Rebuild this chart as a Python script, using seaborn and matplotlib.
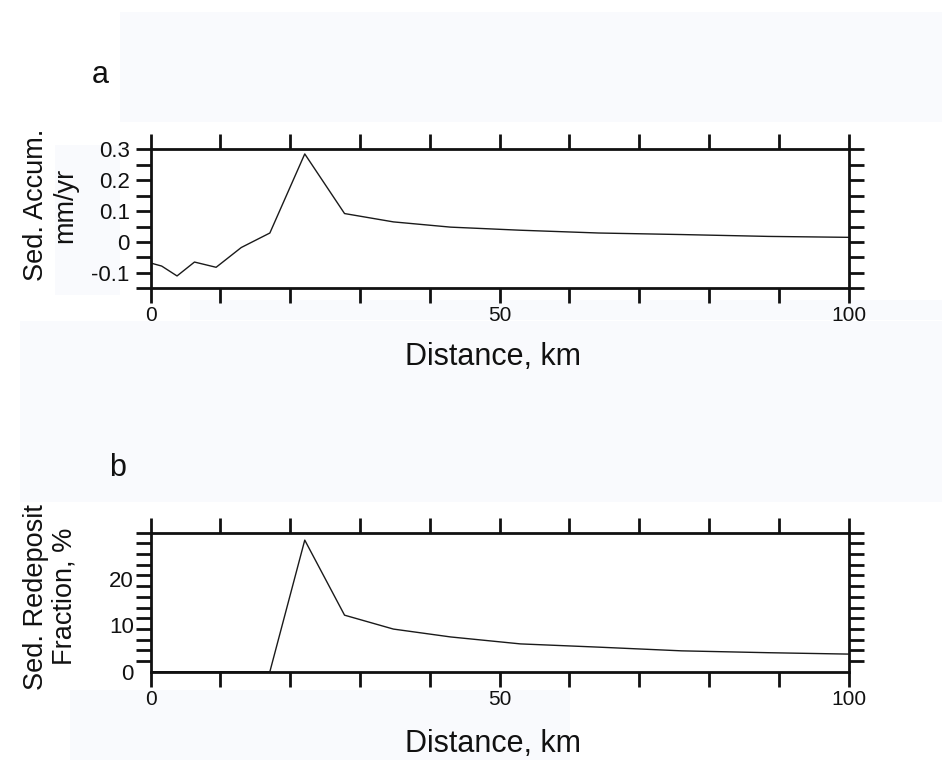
import numpy as np
import pandas as pd
import matplotlib
matplotlib.use("Agg")
import matplotlib.pyplot as plt
from matplotlib.patches import Rectangle
from matplotlib.ticker import FixedLocator, FuncFormatter
import seaborn as sns

# ---- data ----
distance_km = [0, 1.6, 3.8, 6.3, 9.4, 13.0, 17.1, 22.1, 27.8, 34.8, 43.0, 53.0, 64.2, 76.1, 88.5, 100.0]
sed_accum = [-0.068, -0.078, -0.110, -0.065, -0.082, -0.018, 0.029, 0.285, 0.092, 0.065,
             0.048, 0.038, 0.029, 0.024, 0.018, 0.015]
redeposit_pct = [0, 0, 0, 0, 0, 0, 0, 28.4, 12.2, 9.2, 7.5, 6.0, 5.3, 4.5, 4.1, 3.8]

xtick_labels = [0, 50, 100]
top_yticks = [-0.1, 0, 0.1, 0.2, 0.3]
bot_yticks = [0, 10, 20]

sns.set_style("ticks")
plt.rcParams['font.family'] = ['Liberation Sans', 'DejaVu Sans']

W, H = 942, 768
fig = plt.figure(figsize=(W / 100, H / 100), dpi=100)
fig.patch.set_facecolor("white")

# faint background blocks
bg = "#f9fafd"
for (x0, y0, x1, y1) in [(120, 12, 942, 122), (55, 145, 120, 295), (20, 321, 942, 502),
                         (70, 690, 570, 760), (190, 300, 942, 320)]:
    fig.patches.append(Rectangle((x0 / W, 1 - y1 / H), (x1 - x0) / W, (y1 - y0) / H,
                                 transform=fig.transFigure, facecolor=bg, edgecolor="none", zorder=-5))

ax_w = 698 / W
ax_h = 139 / H
ax_left = 150.5 / W
ax1 = fig.add_axes([ax_left, 1 - 288.3 / H, ax_w, ax_h])
ax2 = fig.add_axes([ax_left, 1 - 671.7 / H, ax_w, ax_h])

df = pd.DataFrame({"dist": distance_km, "accum": sed_accum, "redep": redeposit_pct})
sns.lineplot(data=df, x="dist", y="accum", ax=ax1, color="#1a1a1a", linewidth=1.0)
sns.lineplot(data=df, x="dist", y="redep", ax=ax2, color="#1a1a1a", linewidth=1.0)

ax1.set_ylim(-0.15, 0.3)
ax2.set_ylim(0, 30)


def fmt(v, pos):
    if abs(v) < 1e-9:
        return "0"
    return ("%g" % v)


for ax, ylab in ((ax1, -0.385), (ax2, -0.41)):
    ax.set_xlim(0, 100)
    ax.set_facecolor("white")
    for s in ax.spines.values():
        s.set_visible(True)
        s.set_linewidth(2.0)
        s.set_color("#111111")
    ax.xaxis.set_major_locator(FixedLocator(xtick_labels))
    ax.xaxis.set_minor_locator(FixedLocator(list(range(0, 101, 10))))
    ax.tick_params(axis="x", which="both", direction="out", length=11, width=2,
                   top=True, bottom=True, labeltop=False, labelbottom=True,
                   labelsize=15, pad=2, colors="#111111")
    ax.tick_params(axis="y", which="both", direction="out", length=11, width=2,
                   left=True, right=True, labelleft=True, labelright=False,
                   labelsize=16, pad=4, colors="#111111")
    ax.set_xlabel("Distance, km", fontsize=22, color="#111111")
    ax.xaxis.set_label_coords(0.49, ylab)

ax1.yaxis.set_major_locator(FixedLocator(top_yticks))
ax1.yaxis.set_minor_locator(FixedLocator([-0.15, -0.05, 0.05, 0.15, 0.25]))
ax1.yaxis.set_major_formatter(FuncFormatter(fmt))

ax2.yaxis.set_major_locator(FixedLocator(bot_yticks))
ax2.yaxis.set_major_formatter(FuncFormatter(fmt))
ax2.yaxis.set_minor_locator(FixedLocator(list(np.linspace(0, 30, 14))))
ax2.tick_params(axis="y", which="major", length=0, pad=12)

ax1.set_ylabel("Sed. Accum.\nmm/yr", fontsize=19.5, linespacing=1.15, color="#111111")
ax1.yaxis.set_label_coords(-0.104, 0.6)
ax2.set_ylabel("Sed. Redeposit\nFraction, %", fontsize=19.5, linespacing=1.15, color="#111111")
ax2.yaxis.set_label_coords(-0.104, 0.54)

fig.text(100 / W, 1 - 75 / H, "a", fontsize=22, ha="center", va="center", color="#111111")
fig.text(118 / W, 1 - 468 / H, "b", fontsize=22, ha="center", va="center", color="#111111")

fig.savefig("out.png", dpi=100)
